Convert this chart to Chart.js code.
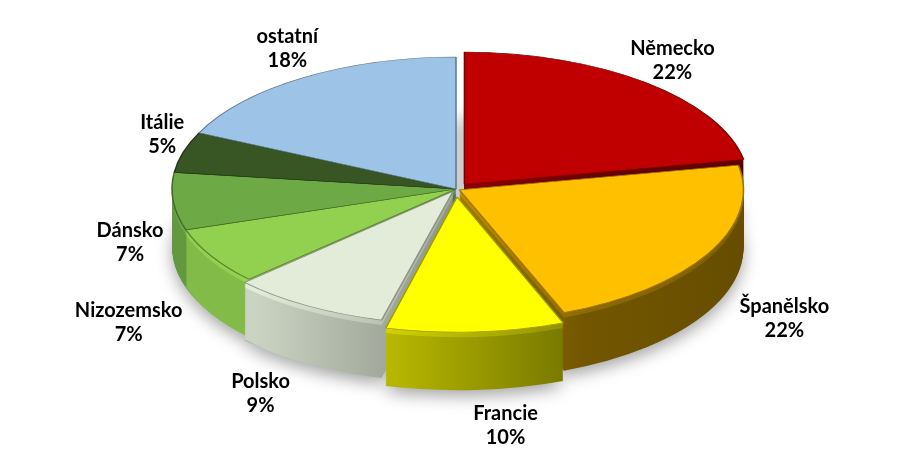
<!DOCTYPE html>
<html>
<head>
<meta charset="utf-8">
<script src="https://cdn.jsdelivr.net/npm/chart.js@4.4.0/dist/chart.umd.min.js"></script>
<style>
html,body{margin:0;padding:0;background:#fff;}
#wrap{width:909px;height:450px;position:relative;}
</style>
</head>
<body>
<div id="wrap"><canvas id="c" width="909" height="450"></canvas></div>
<script>
// ---- data ----
const categories = ['Německo', 'Španělsko', 'Francie', 'Polsko', 'Nizozemsko', 'Dánsko', 'Itálie', 'ostatní'];
const shares = [22, 22, 10, 9, 7, 7, 5, 18];
const sliceColors = ['#C00000', '#FFC000', '#FFFF00', '#E2ECD9', '#92D050', '#6DAA45', '#375623', '#9DC3E6'];
const explode = [34, 10, 44, 14, 0, 0, 0, 0];

// ---- look ----
const geo = { cx: 456, cy: 189, rx: 284, ry: 132, depth: 58 };

function rgbOf(hex) {
  const n = parseInt(hex.slice(1), 16);
  return [(n >> 16) & 255, (n >> 8) & 255, n & 255];
}
function shade(hex, f) {
  const [r, g, b] = rgbOf(hex);
  const c = v => Math.max(0, Math.min(255, Math.round(v * f)));
  return 'rgb(' + c(r) + ',' + c(g) + ',' + c(b) + ')';
}

const pie3d = {
  id: 'pie3d',
  beforeDatasetsDraw(chart) {
    const ctx = chart.ctx;
    const meta = chart.getDatasetMeta(0);
    const arcs = meta.data;
    const a0 = arcs[0];
    const R = a0.outerRadius;
    const sx = geo.rx / R, sy = geo.ry / R;
    const apply = (dy) => {
      ctx.translate(geo.cx, geo.cy + dy);
      ctx.scale(sx, sy);
      ctx.translate(-a0.x, -a0.y);
    };
    // side shading: bright on the left, dark on the right
    const makeGrads = (boost) => arcs.map((arc, i) => {
      const g = ctx.createLinearGradient(a0.x - R, 0, a0.x + R, 0);
      const c = sliceColors[i];
      g.addColorStop(0, shade(c, 0.9 + boost));
      g.addColorStop(0.15, shade(c, 0.9 + boost));
      g.addColorStop(0.72, shade(c, 0.45 + boost));
      g.addColorStop(1, shade(c, 0.4 + boost));
      return g;
    });
    const grads = makeGrads(0);
    const rim = makeGrads(0.1);
    const drawLayer = (dy, fills) => {
      arcs.forEach((arc, i) => {
        const orig = arc.options;
        if (fills) {
          arc.options = Object.assign({}, orig, {
            backgroundColor: fills[i], borderColor: fills[i], borderWidth: 0
          });
        }
        ctx.save();
        apply(dy);
        arc.draw(ctx);
        ctx.restore();
        arc.options = orig;
      });
    };
    // soft shadow under the pie
    ctx.save();
    ctx.shadowColor = 'rgba(0,0,0,0.35)';
    ctx.shadowBlur = 16;
    ctx.shadowOffsetY = 6;
    drawLayer(geo.depth, grads);
    ctx.restore();
    for (let k = geo.depth - 1; k >= 1; k--) drawLayer(k, k <= 5 ? rim : grads);
    drawLayer(0, null);

    // labels
    const total = shares.reduce((a, b) => a + b, 0);
    ctx.save();
    ctx.font = 'bold 20px Lato, "Open Sans", sans-serif';
    ctx.fillStyle = '#000';
    ctx.textAlign = 'center';
    ctx.textBaseline = 'middle';
    arcs.forEach((arc, i) => {
      const mid = (arc.startAngle + arc.endAngle) / 2;
      const off = (arc.options.offset || 0) / 4;
      const px = arc.x + Math.cos(mid) * (R + off);
      const py = arc.y + Math.sin(mid) * (R + off);
      const cs = Math.cos(mid), s = Math.sin(mid);
      let ax = geo.cx + (px - a0.x) * sx;
      let ay = geo.cy + (py - a0.y) * sy;
      const l1 = chart.data.labels[i];
      const l2 = Math.round(shares[i] / total * 100) + '%';
      const hw = Math.max(ctx.measureText(l1).width, ctx.measureText(l2).width) / 2;
      const hh = 24;
      let lx, ly;
      if (s > 0) {
        ay += geo.depth * (0.6 + 0.4 * s);
        const push = 28 * Math.sign(cs) * Math.max(0, Math.min(1, (s - 0.1) / 0.3));
        lx = ax + cs * (hw + 10) + push;
        ly = ay + s * (hh + 15);
      } else {
        lx = ax + cs * hw;
        ly = ay + s * (hh + 4) - 10 * Math.max(0, -cs);
      }
      ctx.fillText(l1, lx, ly - 12);
      ctx.fillText(l2, lx, ly + 12);
    });
    ctx.restore();
    return false;
  }
};

new Chart(document.getElementById('c'), {
  type: 'pie',
  data: {
    labels: categories,
    datasets: [{
      data: shares,
      backgroundColor: sliceColors,
      borderColor: sliceColors.map(c => shade(c, 0.62)),
      borderWidth: 1,
      offset: explode,
      hoverOffset: 0
    }]
  },
  options: {
    responsive: false,
    animation: false,
    events: [],
    layout: { padding: 20 },
    plugins: {
      legend: { display: false },
      tooltip: { enabled: false }
    }
  },
  plugins: [pie3d]
});
</script>
</body>
</html>
